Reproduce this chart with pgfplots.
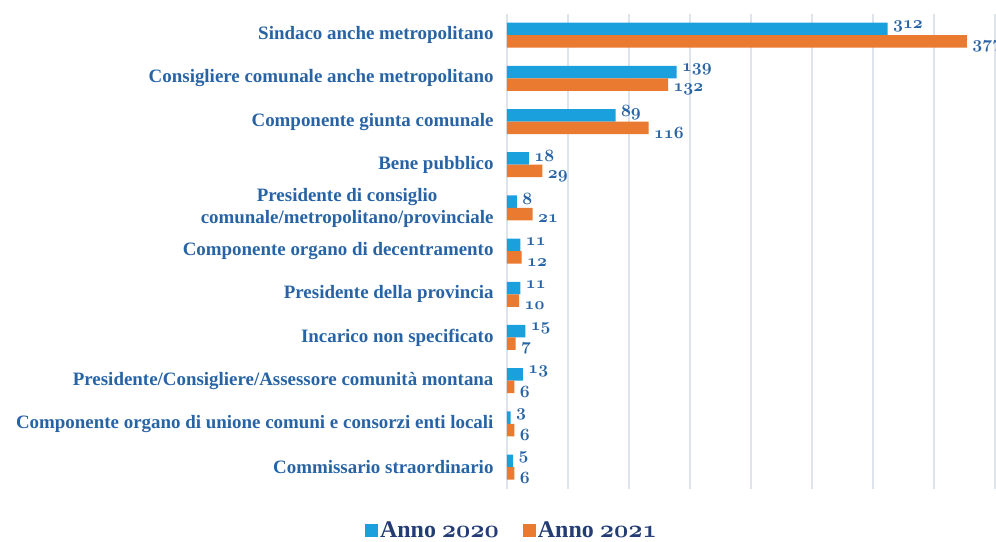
\documentclass[border=0pt]{standalone}
\usepackage{pgfplots}
\pgfplotsset{compat=1.18}
\usepackage{fontspec}
\setmainfont{Liberation Serif}
\definecolor{barblue}{RGB}{27,160,222}
\definecolor{barorange}{RGB}{234,122,48}
\definecolor{lblblue}{RGB}{40,100,165}
\definecolor{legnavy}{RGB}{35,60,115}
\definecolor{gridc}{RGB}{222,228,236}
\newcommand{\osn}[1]{{\fontencoding{OML}\fontfamily{cmm}\fontseries{b}\fontshape{it}\selectfont #1}}
\begin{document}
\begin{tikzpicture}
\begin{axis}[name=ax, xbar=0pt, scale only axis, width=488bp, height=475bp,
  xmin=0, xmax=400, ymin=-0.5, ymax=10.5, y dir=reverse,
  ytick={0,...,10},
  yticklabels={{Sindaco anche metropolitano},
    {Consigliere comunale anche metropolitano},
    {Componente giunta comunale},
    {Bene pubblico},
    {Presidente di consiglio\\comunale/metropolitano/provinciale},
    {Componente organo di decentramento},
    {Presidente della provincia},
    {Incarico non specificato},
    {Presidente/Consigliere/Assessore comunità montana},
    {Componente organo di unione comuni e consorzi enti locali},
    {Commissario straordinario}},
  xtick={0,50,...,400}, xticklabels={},
  xmajorgrids, grid style={gridc, line width=1.2bp},
  axis line style={draw=none}, major tick length=0pt,
  bar width=12.5bp,
  yticklabel style={align=center, font=\bfseries\fontsize{19}{22}\selectfont, text=lblblue, xshift=-10bp},
  nodes near coords={\osn{\pgfmathprintnumber[assume math mode=true]{\pgfplotspointmeta}}},
  nodes near coords style={font=\bfseries\fontsize{19}{22}\selectfont, text=lblblue, xshift=2bp},
  legend image code/.code={\fill[#1] (0bp,-7bp) rectangle (13bp,6bp);},
  legend style={at={(0.0102,-0.087)}, anchor=center, legend columns=2, draw=none, fill=none,
    font=\bfseries\fontsize{24}{26}\selectfont, text=legnavy,
    /tikz/every even column/.append style={column sep=22bp}},
]
\addplot[fill=barblue, draw=none, bar shift=6.25bp, every node near coord/.append style={yshift=3bp}] coordinates {
(312,0) (139,1) (89,2) (18,3) (8,4) (11,5) (11,6) (15,7) (13,8) (3,9) (5,10)};
\addlegendentry{Anno \osn{2020}}
\addplot[fill=barorange, draw=none, bar shift=-6.25bp, every node near coord/.append style={yshift=-5bp}] coordinates {
(377,0) (132,1) (116,2) (29,3) (21,4) (12,5) (10,6) (7,7) (6,8) (6,9) (6,10)};
\addlegendentry{Anno \osn{2021}}
\end{axis}
\pgfresetboundingbox
\path[use as bounding box] ([shift={(-507bp,-53.4bp)}]ax.south west) rectangle ([shift={(489bp,488.6bp)}]ax.south west);
\end{tikzpicture}
\end{document}
